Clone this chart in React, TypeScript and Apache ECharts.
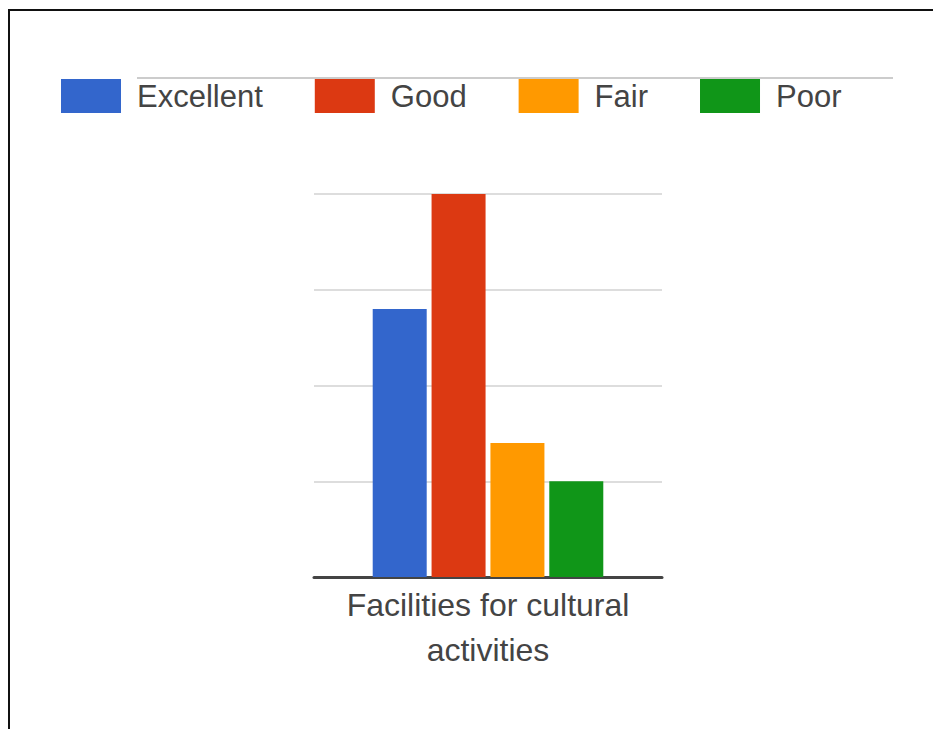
import React, { useEffect, useRef } from "react";
import * as echarts from "echarts";

const categories = ["Facilities for cultural\nactivities"];
const seriesNames = ["Excellent", "Good", "Fair", "Poor"];
const seriesColors = ["#3366cc", "#dc3912", "#ff9900", "#109618"];
const excellentValues = [14];
const goodValues = [20];
const fairValues = [7];
const poorValues = [5];
const yTicks = { min: 0, max: 20, interval: 5 };

export default function App() {
  const ref = useRef<HTMLDivElement>(null);
  useEffect(() => {
    if (!ref.current) return;
    const chart = echarts.init(ref.current, undefined, { renderer: "svg" });
    const values = [excellentValues, goodValues, fairValues, poorValues];
    chart.setOption({
      animation: false,
      backgroundColor: "#ffffff",
      textStyle: { fontFamily: "Liberation Sans, Arial, sans-serif" },
      legend: {
        left: 56,
        top: 74,
        icon: "rect",
        itemWidth: 60,
        itemHeight: 34,
        itemGap: 52,
        textStyle: {
          fontSize: 31,
          color: "#444444",
          padding: [0, 0, 0, 11],
          fontFamily: "Liberation Sans, Arial, sans-serif",
        },
        data: seriesNames,
      },
      graphic: [
        { type: "line", z: -10, shape: { x1: 137, y1: 78, x2: 893, y2: 78 }, style: { stroke: "#cccccc", lineWidth: 2 } },
        { type: "line", shape: { x1: 8, y1: 10, x2: 933, y2: 10 }, style: { stroke: "#111111", lineWidth: 2 } },
        { type: "line", shape: { x1: 9, y1: 9, x2: 9, y2: 729 }, style: { stroke: "#111111", lineWidth: 2 } },
      ],
      grid: { left: 314, right: 271, top: 194, bottom: 152 },
      xAxis: {
        type: "category",
        data: categories,
        axisLine: { lineStyle: { color: "#444444", width: 3 } },
        axisTick: { show: false },
        axisLabel: {
          fontSize: 32,
          lineHeight: 45,
          color: "#444444",
          margin: 5,
          align: "center",
          fontFamily: "Liberation Sans, Arial, sans-serif",
        },
      },
      yAxis: {
        type: "value",
        min: yTicks.min,
        max: yTicks.max,
        interval: yTicks.interval,
        axisLabel: { show: false },
        axisLine: { show: false },
        axisTick: { show: false },
        splitLine: { lineStyle: { color: "#dddddd", width: 2 } },
      },
      series: seriesNames.map((name, i) => ({
        name,
        type: "bar",
        data: values[i],
        barWidth: 54,
        barGap: "9%",
        itemStyle: { color: seriesColors[i] },
      })),
    });
    return () => chart.dispose();
  }, []);
  return (
    <div
      ref={ref}
      style={{ position: "fixed", left: 0, top: 0, width: 933, height: 729 }}
    />
  );
}
